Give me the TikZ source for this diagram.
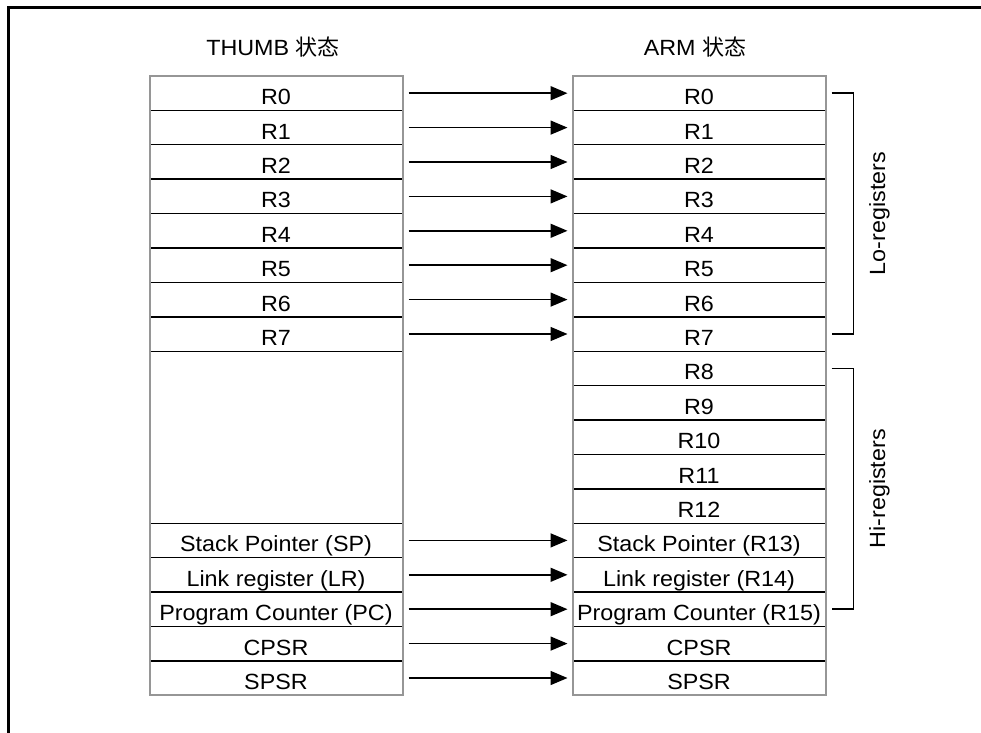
\documentclass[tikz,border=0pt]{standalone}
\usepackage{fontspec}
\setmainfont{Liberation Sans}[FakeStretch=1.06]
\newfontfamily\cjk{Noto Sans CJK SC}
\usetikzlibrary{arrows.meta}
\definecolor{framegray}{RGB}{150,150,150}

\begin{document}
\begin{tikzpicture}[x=0.5pt,y=-0.5pt,
	font=\fontsize{11}{13}\selectfont,
	cell/.style={draw=black, line width=0.7pt, minimum width=126.5pt, minimum height=17.2pt,
		inner sep=0pt, outer sep=0pt, text height=11.5pt, text depth=0pt, anchor=north},
	edge/.style={draw=framegray, line width=1pt},
	link/.style={-{Triangle[length=8.5pt,width=7pt]}, line width=0.75pt},
	brace/.style={line width=0.85pt}]
	\useasboundingbox (0,0) rectangle (981,733);
	\draw[line width=1.1pt] (8.5,733) -- (8.5,7.5) -- (981,7.5);
	\node (thumb) at (273,47) {THUMB {\cjk 状态}};
	\node (arm) at (695,47) {ARM {\cjk 状态}};
	% THUMB state registers
	\foreach \i in {0,...,7}
	\node[cell] (t\i) at (276,{76+\i*34.4}) {R\i};
	\foreach \n/\txt [count=\k from 13] in {sp/{Stack Pointer (SP)}, lr/{Link register (LR)}, pc/{Program Counter (PC)}, cpsr/CPSR, spsr/SPSR}
	\node[cell] (t\n) at (276,{76+\k*34.4}) {\txt};
	% ARM state registers
	\foreach \i in {0,...,12}
	\node[cell] (a\i) at (699,{76+\i*34.4}) {R\i};
	\foreach \n/\txt [count=\k from 13] in {sp/{Stack Pointer (R13)}, lr/{Link register (R14)}, pc/{Program Counter (R15)}, cpsr/CPSR, spsr/SPSR}
	\node[cell] (a\n) at (699,{76+\k*34.4}) {\txt};
	\draw[edge] (t0.north west) rectangle (tspsr.south east);
	\draw[edge] (a0.north west) rectangle (aspsr.south east);
	\foreach \n in {0,1,2,3,4,5,6,7,sp,lr,pc,cpsr,spsr}
	\draw[link] ([xshift=3pt]t\n.east) -- ([xshift=-2.5pt]a\n.west);
	\draw[brace] ([xshift=3pt]a0.east) -- ++(11pt,0) |- ([xshift=3pt]a7.east)
		node[pos=0.25, xshift=13pt, rotate=90] (lo) {Lo-registers};
	\draw[brace] ([xshift=3pt]a8.east) -- ++(11pt,0) |- ([xshift=3pt]apc.east)
		node[pos=0.25, xshift=13pt, rotate=90] (hi) {Hi-registers};
\end{tikzpicture}
\end{document}
